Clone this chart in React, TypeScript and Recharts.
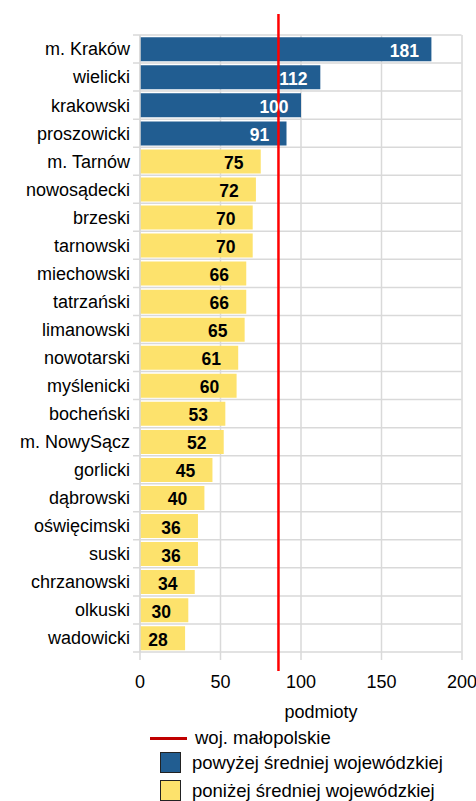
import {
  BarChart,
  Bar,
  XAxis,
  YAxis,
  CartesianGrid,
  ReferenceLine,
  LabelList,
  Cell,
  Legend,
} from "recharts";

const powiaty = [
  "m. Kraków",
  "wielicki",
  "krakowski",
  "proszowicki",
  "m. Tarnów",
  "nowosądecki",
  "brzeski",
  "tarnowski",
  "miechowski",
  "tatrzański",
  "limanowski",
  "nowotarski",
  "myślenicki",
  "bocheński",
  "m. NowySącz",
  "gorlicki",
  "dąbrowski",
  "oświęcimski",
  "suski",
  "chrzanowski",
  "olkuski",
  "wadowicki",
];

const podmioty = [181, 112, 100, 91, 75, 72, 70, 70, 66, 66, 65, 61, 60, 53, 52, 45, 40, 36, 36, 34, 30, 28];

const sredniaWoj = 86;
const xTicks = [0, 50, 100, 150, 200];

const legendLabels = ["woj. małopolskie", "powyżej średniej wojewódzkiej", "poniżej średniej wojewódzkiej"];

const BLUE = "#215d91";
const YELLOW = "#fde26c";
const RED = "#ff0000";
const GRID = "#d9d9d9";
const FONT = "'Liberation Sans', Arial, sans-serif";

const data = powiaty.map((name, i) => ({ name, value: podmioty[i] }));

function ValueLabel(props: any) {
  const { x, y, width, height, value } = props;
  const above = value > sredniaWoj;
  return (
    <text
      x={x + width - 27}
      y={y + height / 2 + 1.5}
      textAnchor="middle"
      dominantBaseline="central"
      fontFamily={FONT}
      fontSize={17.5}
      fontWeight="bold"
      fill={above ? "#ffffff" : "#000000"}
    >
      {value}
    </text>
  );
}

function LegendBox() {
  const row = { display: "flex", alignItems: "center", height: 21 } as const;
  return (
    <div style={{ fontFamily: FONT, fontSize: 18.5, color: "#000" }}>
      <div style={{ ...row, height: 20 }}>
        <div style={{ marginLeft: 150, width: 37, height: 3, background: "#c00000" }} />
        <span style={{ marginLeft: 8 }}>{legendLabels[0]}</span>
      </div>
      <div style={{ ...row, marginTop: 4 }}>
        <div style={{ marginLeft: 160, width: 19, height: 19, background: BLUE, border: "1.5px solid #222" }} />
        <span style={{ marginLeft: 11 }}>{legendLabels[1]}</span>
      </div>
      <div style={{ ...row, marginTop: 7 }}>
        <div style={{ marginLeft: 160, width: 19, height: 19, background: YELLOW, border: "1.5px solid #222" }} />
        <span style={{ marginLeft: 11 }}>{legendLabels[2]}</span>
      </div>
    </div>
  );
}

export default function App() {
  return (
    <div style={{ position: "absolute", left: 0, top: 0, width: 476, height: 801, background: "#fff" }}>
      <BarChart
        width={476}
        height={801}
        data={data}
        layout="vertical"
        margin={{ top: 35, right: 14, left: 0, bottom: 79 }}
        barCategoryGap="8%"
      >
        <CartesianGrid
          stroke={GRID}
          strokeWidth={1.5}
          x={133}
          width={328.5}
          height={625}
          horizontalCoordinatesGenerator={({ offset }: any) =>
            Array.from({ length: powiaty.length + 1 }, (_, i) => offset.top + (i * offset.height) / powiaty.length)
          }
        />
        <XAxis
          type="number"
          domain={[0, 200]}
          ticks={xTicks}
          axisLine={false}
          tickLine={false}
          tickSize={8}
          tickMargin={15}
          height={70}
          tick={{ fontSize: 18, fill: "#000", fontFamily: FONT }}
          label={{
            value: "podmioty",
            position: "insideBottom",
            offset: 4,
            dx: 20,
            style: { fontSize: 18, fill: "#000", fontFamily: FONT },
          }}
        />
        <YAxis
          type="category"
          dataKey="name"
          width={140}
          axisLine={{ stroke: GRID, strokeWidth: 1.5 }}
          tickLine={false}
          tickMargin={4}
          interval={0}
          tick={{ fontSize: 18, fill: "#000", fontFamily: FONT }}
        />
        <Bar dataKey="value" isAnimationActive={false}>
          {data.map((d) => (
            <Cell key={d.name} fill={d.value > sredniaWoj ? BLUE : YELLOW} />
          ))}
          <LabelList dataKey="value" content={ValueLabel} />
        </Bar>
        <ReferenceLine
          x={sredniaWoj}
          stroke={RED}
          strokeWidth={2.5}
          shape={(p: any) => (
            <line x1={p.x1} x2={p.x2} y1={Math.min(p.y1, p.y2) - 21} y2={Math.max(p.y1, p.y2) + 19} stroke={RED} strokeWidth={2.5} />
          )}
        />
        <Legend
          layout="horizontal"
          verticalAlign="middle"
          align="center"
          wrapperStyle={{ top: 728, left: 0, width: 476 }}
          content={() => <LegendBox />}
        />
      </BarChart>
    </div>
  );
}
